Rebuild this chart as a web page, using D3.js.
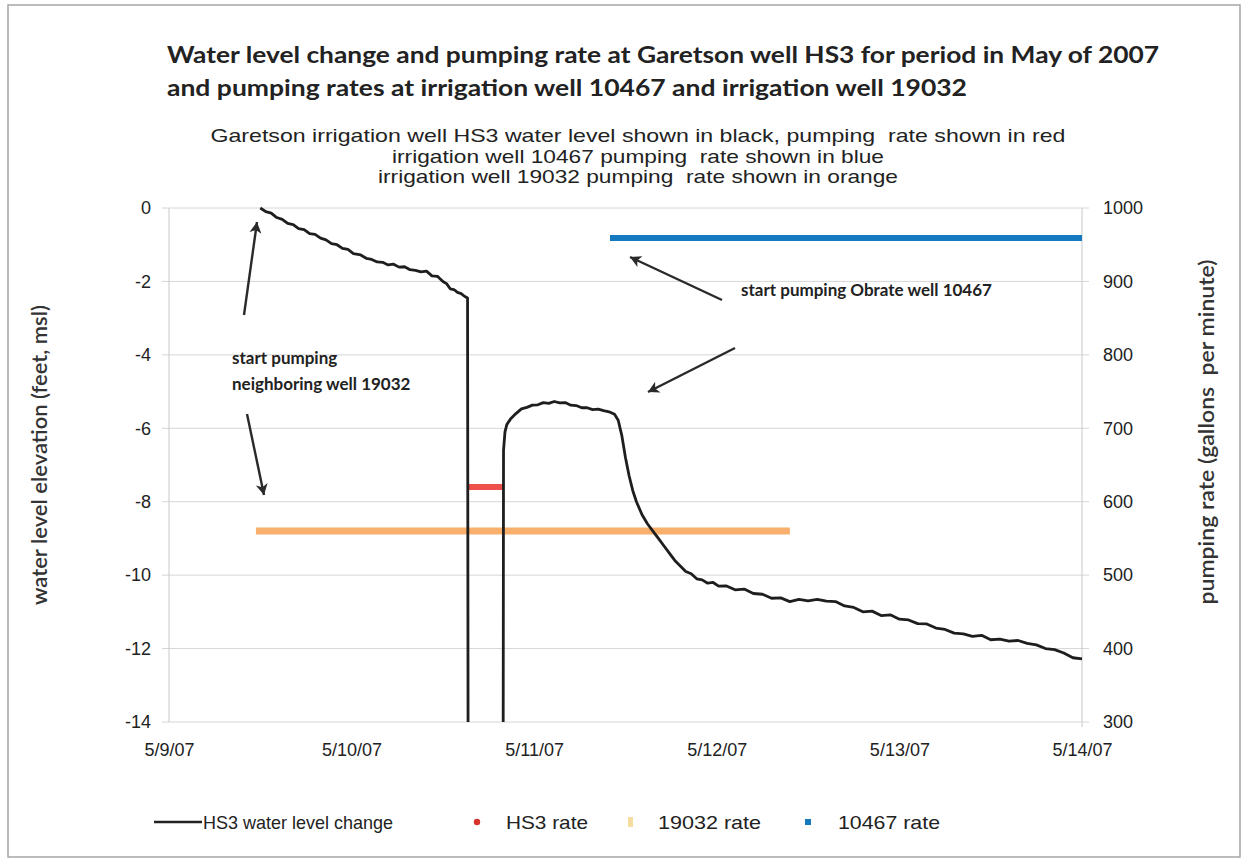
<!DOCTYPE html>
<html>
<head>
<meta charset="utf-8">
<script src="https://cdn.jsdelivr.net/npm/d3@7"></script>
<style>
  body { margin: 0; background: #fff; }
  svg { display: block; }
  text { white-space: pre; }
</style>
</head>
<body>
<svg id="chart" width="1247" height="868"></svg>
<script>
// axis labels
var dayTicks = ["5/9/07", "5/10/07", "5/11/07", "5/12/07", "5/13/07", "5/14/07"];
var levelTicks = [0, -2, -4, -6, -8, -10, -12, -14];
var rateTicks = [1000, 900, 800, 700, 600, 500, 400, 300];

// HS3 water level change (days after 5/9/07 00:00, feet)
var hs3Days = [0.50, 0.53, 0.56, 0.59, 0.62, 0.65, 0.68, 0.71, 0.74, 0.77, 0.80, 0.83, 0.86, 0.89, 0.92, 0.95, 0.98,
  1.01, 1.05, 1.08, 1.11, 1.14, 1.17, 1.20, 1.23, 1.26, 1.29, 1.32, 1.35, 1.38, 1.41, 1.44, 1.47, 1.50, 1.52, 1.54,
  1.56, 1.58, 1.60, 1.62, 1.635, 1.638, 1.83, 1.832, 1.84, 1.85, 1.87, 1.90, 1.93, 1.96, 1.99, 2.02, 2.05, 2.08,
  2.11, 2.14, 2.17, 2.20, 2.23, 2.26, 2.29, 2.32, 2.35, 2.38, 2.41, 2.44, 2.46, 2.48, 2.50, 2.52, 2.54, 2.56, 2.59,
  2.62, 2.65, 2.68, 2.71, 2.74, 2.77, 2.80, 2.83, 2.86, 2.89, 2.92, 2.95, 2.98, 3.01, 3.05, 3.10, 3.15, 3.20, 3.25,
  3.30, 3.35, 3.40, 3.45, 3.50, 3.55, 3.60, 3.65, 3.70, 3.75, 3.80, 3.85, 3.90, 3.95, 4.00, 4.05, 4.10, 4.15, 4.20,
  4.25, 4.30, 4.35, 4.40, 4.45, 4.50, 4.55, 4.60, 4.65, 4.70, 4.75, 4.80, 4.85, 4.90, 4.95, 5.00];
var hs3Level = [0, -0.10, -0.14, -0.26, -0.31, -0.42, -0.45, -0.56, -0.59, -0.70, -0.72, -0.82, -0.87, -0.97, -1.00,
  -1.10, -1.13, -1.24, -1.28, -1.37, -1.40, -1.47, -1.48, -1.55, -1.53, -1.61, -1.60, -1.68, -1.70, -1.74, -1.72,
  -1.85, -1.86, -2.00, -2.06, -2.20, -2.22, -2.30, -2.33, -2.41, -2.45, -15, -15, -6.6, -6.1, -5.9, -5.75, -5.6,
  -5.47, -5.43, -5.37, -5.36, -5.30, -5.32, -5.27, -5.31, -5.30, -5.37, -5.38, -5.44, -5.44, -5.49, -5.48, -5.52,
  -5.55, -5.62, -5.78, -6.2, -6.8, -7.3, -7.7, -8.0, -8.35, -8.6, -8.8, -9.0, -9.2, -9.4, -9.6, -9.75, -9.9, -9.96,
  -10.1, -10.13, -10.22, -10.2, -10.3, -10.29, -10.4, -10.38, -10.5, -10.52, -10.63, -10.62, -10.72, -10.66, -10.7,
  -10.66, -10.71, -10.72, -10.84, -10.88, -11.0, -10.98, -11.1, -11.08, -11.2, -11.22, -11.32, -11.33, -11.44,
  -11.48, -11.58, -11.6, -11.67, -11.64, -11.76, -11.74, -11.8, -11.78, -11.86, -11.9, -12.0, -12.03, -12.12,
  -12.25, -12.28];

// pumping rates (gallons per minute)
var hs3RateDays = [1.635, 1.83];
var hs3Rate = [620, 620];
var well19032Days = [0.476, 3.40];
var well19032Rate = [560, 560];
var well10467Days = [2.415, 5.0];
var well10467Rate = [959, 959];

var svg = d3.select("#chart");
var pL = 169, pR = 1082, pT = 208, pB = 722;

var x = d3.scaleLinear().domain([0, 5]).range([pL, pR]);
var yL = d3.scaleLinear().domain([-14, 0]).range([pB, pT]);
var yR = d3.scaleLinear().domain([300, 1000]).range([pB, pT]);

var axisFont = "'Liberation Sans', Arial, sans-serif";
var boldFont = "Lato, 'Open Sans', sans-serif";
var narrowFont = "'Liberation Sans Narrow', 'Arial Narrow', 'Liberation Sans', sans-serif";

// outer frame
svg.append("rect")
  .attr("x", 8).attr("y", 5).attr("width", 1232).attr("height", 852)
  .style("fill", "none").style("stroke", "#a6a6a6").style("stroke-width", 1.5);

// titles
var title = ["Water level change and pumping rate at Garetson well HS3 for period in May of 2007",
  "and pumping rates at irrigation well 10467 and irrigation well 19032"];
var titleLen = [992, 800];
for (var i = 0; i < title.length; i++) {
  svg.append("text")
    .attr("x", 167).attr("y", 63 + i * 33)
    .attr("textLength", titleLen[i]).attr("lengthAdjust", "spacingAndGlyphs")
    .style("font-family", boldFont).style("font-weight", "bold").style("font-size", "22px")
    .style("fill", "#222")
    .text(title[i]);
}
var subtitle = ["Garetson irrigation well HS3 water level shown in black, pumping  rate shown in red",
  "irrigation well 10467 pumping  rate shown in blue",
  "irrigation well 19032 pumping  rate shown in orange"];
var subLen = [855, 492, 520];
for (var j = 0; j < subtitle.length; j++) {
  svg.append("text")
    .attr("x", 638).attr("y", 142 + j * 20.5)
    .attr("text-anchor", "middle")
    .attr("textLength", subLen[j]).attr("lengthAdjust", "spacingAndGlyphs")
    .style("font-family", narrowFont).style("font-size", "19px")
    .style("fill", "#222")
    .text(subtitle[j]);
}

// gridlines
svg.append("g").selectAll("line").data(levelTicks).enter().append("line")
  .attr("x1", pL - 7).attr("x2", pR + 7)
  .attr("y1", function(d){ return yL(d); }).attr("y2", function(d){ return yL(d); })
  .style("stroke", "#d6d6d6").style("stroke-width", 1);

svg.append("line").attr("x1", pL).attr("x2", pL).attr("y1", pT).attr("y2", pB)
  .style("stroke", "#c8c8c8");
svg.append("line").attr("x1", pR).attr("x2", pR).attr("y1", pT).attr("y2", pB + 5)
  .style("stroke", "#c8c8c8");

// axes
var plain = function(d){ return String(d); };
var gL = svg.append("g").attr("transform", "translate(" + pL + ",0)")
  .call(d3.axisLeft(yL).tickValues(levelTicks).tickSize(0).tickPadding(18).tickFormat(plain));
var gR = svg.append("g").attr("transform", "translate(" + pR + ",0)")
  .call(d3.axisRight(yR).tickValues(rateTicks).tickSize(0).tickPadding(21).tickFormat(plain));
var gX = svg.append("g").attr("transform", "translate(0," + pB + ")")
  .call(d3.axisBottom(x).tickValues([0, 1, 2, 3, 4, 5]).tickSize(0).tickPadding(21)
    .tickFormat(function(d){ return dayTicks[d]; }));
[gL, gR, gX].forEach(function(g){
  g.select(".domain").remove();
  g.selectAll("text").style("font-family", axisFont).style("font-size", "18px").style("fill", "#222");
});

// axis titles
svg.append("text")
  .attr("transform", "translate(47,455) rotate(-90)")
  .attr("text-anchor", "middle")
  .attr("textLength", 300).attr("lengthAdjust", "spacingAndGlyphs")
  .style("font-family", boldFont).style("font-size", "21px").style("font-weight", "600").style("fill", "#333")
  .text("water level elevation (feet, msl)");
svg.append("text")
  .attr("transform", "translate(1214,432) rotate(-90)")
  .attr("text-anchor", "middle")
  .attr("textLength", 345).attr("lengthAdjust", "spacingAndGlyphs")
  .style("font-family", boldFont).style("font-size", "21px").style("font-weight", "600").style("fill", "#333")
  .text("pumping rate (gallons  per minute)");

// plot clip
svg.append("clipPath").attr("id", "plotclip").append("rect")
  .attr("x", pL).attr("y", pT - 10).attr("width", pR - pL + 4).attr("height", pB - pT + 10);

var plot = svg.append("g").attr("clip-path", "url(#plotclip)");

function rateLine(days, vals, color, w) {
  var pts = days.map(function(d, i){ return [d, vals[i]]; });
  plot.append("path")
    .datum(pts)
    .attr("d", d3.line().x(function(d){ return x(d[0]); }).y(function(d){ return yR(d[1]); }))
    .style("fill", "none").style("stroke", color).style("stroke-width", w);
}
rateLine(well19032Days, well19032Rate, "#f9b06c", 7);
rateLine(well10467Days, well10467Rate, "#1479bf", 6);
rateLine(hs3RateDays, hs3Rate, "#f0504c", 6);

var hs3 = hs3Days.map(function(d, i){ return [d, hs3Level[i]]; });
plot.append("path")
  .datum(hs3)
  .attr("d", d3.line().x(function(d){ return x(d[0]); }).y(function(d){ return yL(d[1]); }))
  .style("fill", "none").style("stroke", "#1e1e1e").style("stroke-width", 2.8)
  .style("stroke-linejoin", "round");

// annotations
svg.append("defs").append("marker")
  .attr("id", "arrow").attr("viewBox", "-12 -7 14 14")
  .attr("refX", 0).attr("refY", 0).attr("markerWidth", 14).attr("markerHeight", 14)
  .attr("markerUnits", "userSpaceOnUse").attr("orient", "auto")
  .append("path").attr("d", "M-11,-6 L0,0 L-11,6 L-8,0 Z").style("fill", "#2a2a2a");

var arrows = [[244, 315, 257, 222], [247, 414, 264, 495], [722, 300, 630, 257], [735, 348, 648, 392]];
arrows.forEach(function(a){
  svg.append("line")
    .attr("x1", a[0]).attr("y1", a[1]).attr("x2", a[2]).attr("y2", a[3])
    .attr("marker-end", "url(#arrow)")
    .style("stroke", "#2a2a2a").style("stroke-width", 2.4);
});

var notes = [["start pumping", 232, 364], ["neighboring well 19032", 232, 390], ["start pumping Obrate well 10467", 741, 296]];
notes.forEach(function(n){
  svg.append("text").attr("x", n[1]).attr("y", n[2])
    .style("font-family", boldFont).style("font-weight", "bold").style("font-size", "17px").style("fill", "#222")
    .text(n[0]);
});

// legend
var ly = 822;
svg.append("line").attr("x1", 154).attr("x2", 202).attr("y1", ly).attr("y2", ly)
  .style("stroke", "#222").style("stroke-width", 2.6);
svg.append("circle").attr("cx", 477).attr("cy", ly).attr("r", 3.2).style("fill", "#d9342b");
svg.append("rect").attr("x", 628).attr("y", ly - 5).attr("width", 5).attr("height", 10).style("fill", "#f7dca0");
svg.append("rect").attr("x", 805).attr("y", ly - 3).attr("width", 6).attr("height", 6).style("fill", "#1479bf");
var legendText = [["HS3 water level change", 203, 190], ["HS3 rate", 506, 82], ["19032 rate", 658, 103], ["10467 rate", 838, 102]];
legendText.forEach(function(t){
  svg.append("text").attr("x", t[1]).attr("y", ly + 7)
    .attr("textLength", t[2]).attr("lengthAdjust", "spacingAndGlyphs")
    .style("font-family", narrowFont).style("font-size", "19px").style("fill", "#222")
    .text(t[0]);
});
</script>
</body>
</html>
